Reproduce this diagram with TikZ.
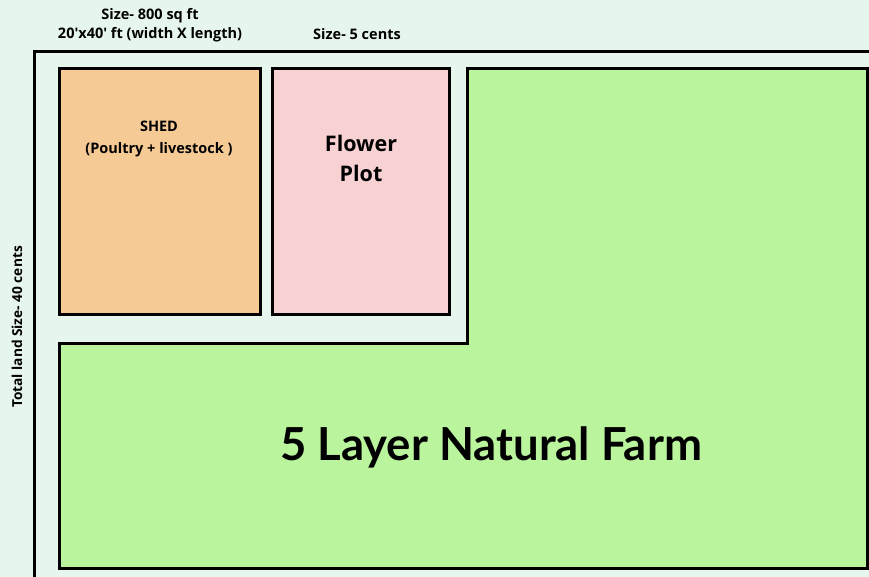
\documentclass[tikz,border=0pt]{standalone}
\usepackage{fontspec}
\setmainfont{Open Sans}[Ligatures=TeXOff]
\newfontfamily\bigfont{Lato}
\definecolor{bgmint}{HTML}{E6F6EC}
\definecolor{shedorange}{HTML}{F5CA95}
\definecolor{flowerpink}{HTML}{F8D1D2}
\definecolor{farmgreen}{HTML}{BAF49D}
\tikzset{
  plotbox/.style={draw=black,line width=3pt,inner sep=0pt,anchor=center},
  smalllabel/.style={font=\fontsize{14.5}{19}\selectfont\bfseries,align=center,inner sep=0pt},
  midlabel/.style={font=\fontsize{21.5}{30}\selectfont\bfseries,align=center,inner sep=0pt},
  biglabel/.style={font=\bigfont\fontsize{45.5}{50}\selectfont\bfseries,inner sep=0pt}
}
\begin{document}
\begin{tikzpicture}[x=1pt,y=-1pt]
\useasboundingbox (0,0) rectangle (869,577);
\fill[bgmint] (0,0) rectangle (869,577);
\begin{scope}
\clip (0,0) rectangle (869,577);
% outer land boundary
\draw[line width=3pt] (34.5,51.5) rectangle (890,600);
% green L-shaped farm
\draw[line width=3pt,fill=farmgreen] (467.5,68.5) -- (867,68.5) -- (867,568) -- (59,568) -- (59,343.5) -- (467.5,343.5) -- cycle;
\end{scope}
% shed and flower plot
\node[plotbox,fill=shedorange,minimum width=201pt,minimum height=245.5pt] (shed) at (159.5,191.25) {};
\node[plotbox,fill=flowerpink,minimum width=177pt,minimum height=245.5pt] (flower) at (360.5,191.25) {};
% labels
\node[smalllabel] (shedsize) at (150,25.5) {Size- 800 sq ft\\20'x40' ft (width X length)};
\node[smalllabel] (flowersize) at (357,34) {Size- 5 cents};
\node[smalllabel,font=\fontsize{14.5}{22}\selectfont\bfseries] (shedtxt) at (159,139) {SHED\\(Poultry + livestock )};
\node[midlabel] (flowertxt) at (361,158) {Flower\\Plot};
\node[smalllabel,font=\fontsize{13.7}{19}\selectfont\bfseries,rotate=90] (total) at (17,327) {Total land Size- 40 cents};
\node[biglabel] (farm) at (491,447) {5 Layer Natural Farm};
\end{tikzpicture}
\end{document}
